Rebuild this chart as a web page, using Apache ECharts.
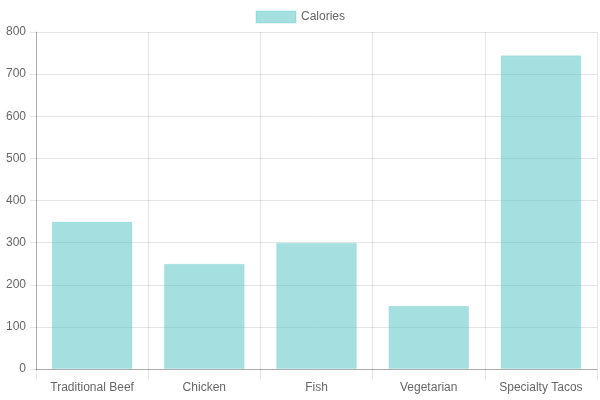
<!DOCTYPE html>
<html>
<head>
<meta charset="utf-8">
<script src="https://cdn.jsdelivr.net/npm/echarts@6/dist/echarts.min.js"></script>
<style>
  html, body { margin: 0; padding: 0; background: #fff; }
  #chart { width: 600px; height: 400px; }
</style>
</head>
<body>
<div id="chart"></div>
<script>
const categories = ['Traditional Beef', 'Chicken', 'Fish', 'Vegetarian', 'Specialty Tacos'];
const calories = [350, 250, 300, 150, 745];
const seriesName = 'Calories';

const chart = echarts.init(document.getElementById('chart'));
const font = 'Liberation Sans, Arial, sans-serif';

chart.setOption({
  animation: false,
  textStyle: { fontFamily: font },
  legend: {
    data: [{ name: seriesName, icon: 'rect' }],
    top: 5,
    left: 'center',
    itemWidth: 40,
    itemHeight: 12,
    itemGap: 6,
    textStyle: { color: '#666', fontSize: 12, fontFamily: font }
  },
  grid: { left: 36, right: 3, top: 32, bottom: 31, containLabel: false },
  xAxis: {
    type: 'category',
    data: categories,
    axisLine: { show: true, lineStyle: { color: 'rgba(0,0,0,0.25)' } },
    axisTick: { show: true, length: 10, lineStyle: { color: 'rgba(0,0,0,0.1)' } },
    splitLine: { show: true, lineStyle: { color: 'rgba(0,0,0,0.1)' } },
    axisLabel: { color: '#666', fontSize: 12, margin: 13, fontFamily: font }
  },
  yAxis: {
    type: 'value',
    min: 0,
    max: 800,
    interval: 100,
    axisLine: { show: true, lineStyle: { color: 'rgba(0,0,0,0.25)' } },
    axisTick: { show: true, length: 6, lineStyle: { color: 'rgba(0,0,0,0.1)' } },
    splitLine: { show: true, lineStyle: { color: 'rgba(0,0,0,0.1)' } },
    axisLabel: { color: '#666', fontSize: 12, margin: 10, fontFamily: font }
  },
  series: [{
    name: seriesName,
    type: 'bar',
    data: calories,
    barCategoryGap: '28%',
    itemStyle: {
      color: 'rgba(75,192,192,0.5)',
      borderColor: 'rgba(75,192,192,0.15)',
      borderWidth: 1
    }
  }]
});
</script>
</body>
</html>
